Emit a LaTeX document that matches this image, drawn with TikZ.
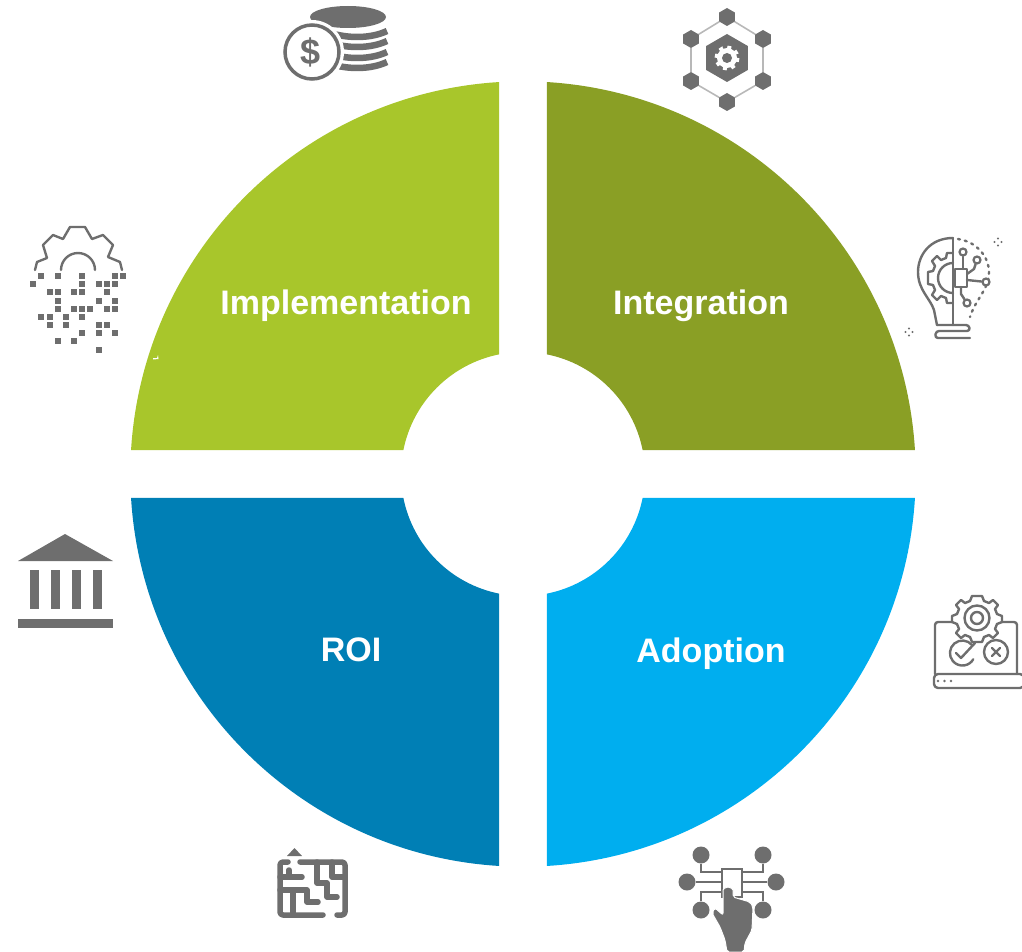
\documentclass[tikz,border=0pt]{standalone}
\usepackage{fontspec}
\setmainfont{Liberation Sans}
\usetikzlibrary{shapes.geometric}
\definecolor{implgreen}{HTML}{A8C62B}
\definecolor{integgreen}{HTML}{8A9F25}
\definecolor{roiblue}{HTML}{007FB5}
\definecolor{adoptblue}{HTML}{00AEEF}
\definecolor{icongray}{HTML}{6E6E6E}
\tikzset{
    quadlabel/.style={text=white, font=\bfseries\fontsize{34}{40}\selectfont},
    iconline/.style={draw=icongray, line width=2.4pt, line join=round, line cap=round},
    mazeline/.style={draw=icongray, line width=5.5pt, line join=round, line cap=round},
    iconfill/.style={fill=icongray, draw=none},
    hexnode/.style={regular polygon, regular polygon sides=6, rotate=30, fill=icongray, inner sep=0pt, minimum size=18pt},
    hubnode/.style={circle, fill=icongray, inner sep=0pt, minimum size=17pt},
    tipnode/.style={circle, draw=icongray, line width=2.2pt, fill=white, inner sep=0pt, minimum size=7pt},
}
\newcommand{\tinydots}[2]{
    \fill[icongray] (#1-3.5,#2) circle (1.2) (#1+3.5,#2) circle (1.2) (#1,#2-3.5) circle (1.2) (#1,#2+3.5) circle (1.2);
}
\begin{document}
\begin{tikzpicture}[x=1pt, y=-1pt]
    \useasboundingbox (0,0) rectangle (1022,952);

    \begin{scope}[shift={(523,474)}]
        \fill[implgreen] (183.5:392.7) arc[start angle=183.5, end angle=266.5, radius=392.7] -- (258.7:122) arc[start angle=258.7, end angle=191.3, radius=122] -- cycle;
        \fill[integgreen] (273.5:392.7) arc[start angle=273.5, end angle=356.5, radius=392.7] -- (348.7:122) arc[start angle=348.7, end angle=281.3, radius=122] -- cycle;
        \fill[adoptblue] (3.5:392.7) arc[start angle=3.5, end angle=86.5, radius=392.7] -- (78.7:122) arc[start angle=78.7, end angle=11.3, radius=122] -- cycle;
        \fill[roiblue] (93.5:392.7) arc[start angle=93.5, end angle=176.5, radius=392.7] -- (168.7:122) arc[start angle=168.7, end angle=101.3, radius=122] -- cycle;
    \end{scope}
    \fill[white] (153,358) -- (157,358) -- (158,355) -- (158.5,359) -- (153,359.5) -- cycle;

    \node[quadlabel] (implementation) at (346,306) {Implementation};
    \node[quadlabel] (integration) at (701,306) {Integration};
    \node[quadlabel] (roi) at (351,650) {ROI};
    \node[quadlabel] (adoption) at (711,654) {Adoption};

    % coins
    \fill[icongray] (348,17) ellipse (38 and 11);
    \draw[icongray, line width=6.5pt] (325,31) .. controls (345,39) and (370,39) .. (387,31);
    \draw[icongray, line width=6.5pt] (325,41) .. controls (345,49) and (370,49) .. (387,41);
    \draw[icongray, line width=6.5pt] (325,52) .. controls (345,60) and (370,60) .. (387,52);
    \draw[icongray, line width=6.5pt] (325,62) .. controls (345,70) and (370,70) .. (387,62);
    \fill[white] (312,52) circle (32);
    \draw[icongray, line width=3.5pt] (312,52) circle (27);
    \node[text=icongray, font=\bfseries\fontsize{36}{40}\selectfont] (dollar) at (311,52) {\$};

    % hexagons
    \node[hexnode] (hexa) at (727,17) {};
    \node[hexnode] (hexb) at (763,39) {};
    \node[hexnode] (hexc) at (763,81) {};
    \node[hexnode] (hexd) at (727,102) {};
    \node[hexnode] (hexe) at (691,81) {};
    \node[hexnode] (hexf) at (691,39) {};
    \draw[black!28, line width=1.6pt] (hexa) -- (hexb) -- (hexc) -- (hexd) -- (hexe) -- (hexf) -- (hexa);
    \node[hexnode, minimum size=48pt] (hexhub) at (727,58) {};
    \fill[white] (727,58) circle (10);
    \draw[white, line width=3pt, dash pattern=on 4pt off 4.64pt] (727,58) circle (11);
    \fill[icongray] (727,58) circle (5);

    % bulb
    \draw[iconline] (953,238) .. controls (930,238) and (918,255) .. (918,272) .. controls (918,290) and (930,298) .. (934,310) -- (937,325);
    \draw[iconline] (953,238) -- (953,325);
    \draw[iconline, rounded corners=3pt] (937,325) -- (969,325) -- (970,331) -- (936,331) -- (935,338) -- (970,338);
    \draw[iconline, line width=2.4pt, dash pattern=on 2pt off 5pt] (958,239) .. controls (978,242) and (989,258) .. (989,272) .. controls (989,290) and (976,298) .. (970,317);
    \draw[iconline] (953,263) arc[start angle=270, end angle=90, radius=15];
    \draw[iconline] (953,253) -- (947,253) -- (946,258) -- (941,260) -- (937,256) -- (932,261) -- (935,266) -- (933,271) -- (928,272) -- (928,284) -- (933,285) -- (935,290) -- (932,295) -- (937,300) -- (941,296) -- (946,298) -- (947,303) -- (953,303);
    \node[tipnode] (tipa) at (963,252) {};
    \node[tipnode] (tipb) at (977,260) {};
    \node[tipnode] (tipc) at (986,282) {};
    \node[tipnode] (tipd) at (967,303) {};
    \draw[iconline, fill=white] (955,269) rectangle (967,287);
    \draw[iconline] (tipa) -- (963,269);
    \draw[iconline] (tipb) -- (974,269) -- (967,274);
    \draw[iconline] (tipc) -- (967,280);
    \draw[iconline] (tipd) -- (961,294) -- (961,287);
    \tinydots{998}{242}
    \tinydots{909}{332}

    % data gear
    \draw[iconline] (35,270) -- (37,262) -- (47,258) -- (43,245) -- (53,235) -- (63,239) -- (70,227) -- (85,227) -- (92,239) -- (103,235) -- (113,245) -- (108,257) -- (120,262) -- (122,270);
    \draw[iconline] (61,270) arc[start angle=180, end angle=360, radius=17];
    \foreach \r/\cols in {0/{1,3,6,10,11},1/{0,6,8,9,10},2/{2,3,5,6,9},3/{3,8,10},4/{3,5,6,7,9,10},5/{1,2,4,6},6/{2,4,8,9},7/{6,8,10},8/{3,5},9/{8}} {
        \foreach \c in \cols {
            \fill[icongray] ({33.3+8.17*\c-3},{276+8.17*\r-3}) rectangle ++(6,6);
        }
    }

    % bank
    \fill[icongray] (18,561) -- (65,534) -- (113,561) -- cycle;
    \fill[icongray] (30,570) rectangle (39,609);
    \fill[icongray] (51,570) rectangle (60,609);
    \fill[icongray] (72,570) rectangle (81,609);
    \fill[icongray] (93,570) rectangle (102,609);
    \fill[icongray] (18,619) rectangle (113,628);

    % laptop
    \draw[iconline, rounded corners=3pt] (935,674) -- (935,622) -- (1017,622) -- (1017,674);
    \draw[iconline, rounded corners=4pt] (934,674) rectangle (1024,688);
    \fill[icongray] (938,681) circle (1.4) (944.5,681) circle (1.4) (951,681) circle (1.4);
    \draw[iconline, fill=white] (977,596) -- (982,596) -- (984,601) -- (989,603) -- (993,600) -- (998,605) -- (995,609) -- (997,614) -- (1002,616) -- (1002,622) -- (997,624) -- (995,629) -- (998,633) -- (993,638) -- (989,635) -- (984,637) -- (982,642) -- (972,642) -- (970,637) -- (965,635) -- (961,638) -- (956,633) -- (959,629) -- (957,624) -- (952,622) -- (952,616) -- (957,614) -- (959,609) -- (956,605) -- (961,600) -- (965,603) -- (970,601) -- (972,596) -- cycle;
    \draw[iconline] (977,618) circle (12.5);
    \draw[iconline] (977,618) circle (6);
    \draw[iconline] (972,645) arc[start angle=-40, end angle=-330, radius=12.5];
    \draw[iconline] (956,653) -- (961,658) -- (975,643);
    \draw[iconline] (996,652) circle (12);
    \draw[iconline] (992,648) -- (1000,656);
    \draw[iconline] (1000,648) -- (992,656);

    % touch hub
    \node[hubnode] (huba) at (701,855) {};
    \node[hubnode] (hubb) at (763,855) {};
    \node[hubnode] (hubc) at (687,882) {};
    \node[hubnode] (hubd) at (776,882) {};
    \node[hubnode] (hube) at (701,910) {};
    \node[hubnode] (hubf) at (763,910) {};
    \node[draw=icongray, line width=2.4pt, fill=white, minimum width=20pt, minimum height=28pt, inner sep=0pt] (hubscreen) at (732,883) {};
    \draw[icongray, line width=2.4pt] (huba) |- (hubscreen.north west |- 872,872);
    \draw[icongray, line width=2.4pt] (hubb) |- (hubscreen.north east |- 872,872);
    \draw[icongray, line width=2.4pt] (hubc) -- (hubc -| hubscreen.west);
    \draw[icongray, line width=2.4pt] (hubd) -- (hubd -| hubscreen.east);
    \draw[icongray, line width=2.4pt] (hube) |- (hubscreen.south west |- 892,892);
    \draw[icongray, line width=2.4pt] (hubf) |- (hubscreen.south east |- 892,892);
    \fill[icongray, draw=white, line width=1pt, rounded corners=2pt] (723,892) arc[start angle=180, end angle=360, radius=5] -- (733,897) -- (750,902) -- (753,907) -- (752,930) -- (745,943) -- (744,952) -- (727,952) -- (725,940) -- (720,927) -- (712,913) -- (715,908) -- (723,915) -- cycle;

    % maze
    \fill[icongray] (287,856) -- (294.5,848) -- (302,856) -- cycle;
    \draw[mazeline, rounded corners=3pt] (288,862) -- (280,862) -- (280,915) -- (323,915);
    \draw[mazeline, rounded corners=3pt] (337,915) -- (345,915) -- (345,862) -- (300,862);
    \draw[mazeline] (280,877) -- (302,877);
    \draw[mazeline] (289,870) -- (289,877);
    \draw[mazeline] (280,890) -- (307,890) -- (307,902) -- (318,902);
    \draw[mazeline] (293,890) -- (293,915);
    \draw[mazeline] (317,862) -- (317,883) -- (327,883) -- (327,897) -- (337,897);
    \draw[mazeline] (332,862) -- (332,877) -- (345,877);
\end{tikzpicture}
\end{document}
